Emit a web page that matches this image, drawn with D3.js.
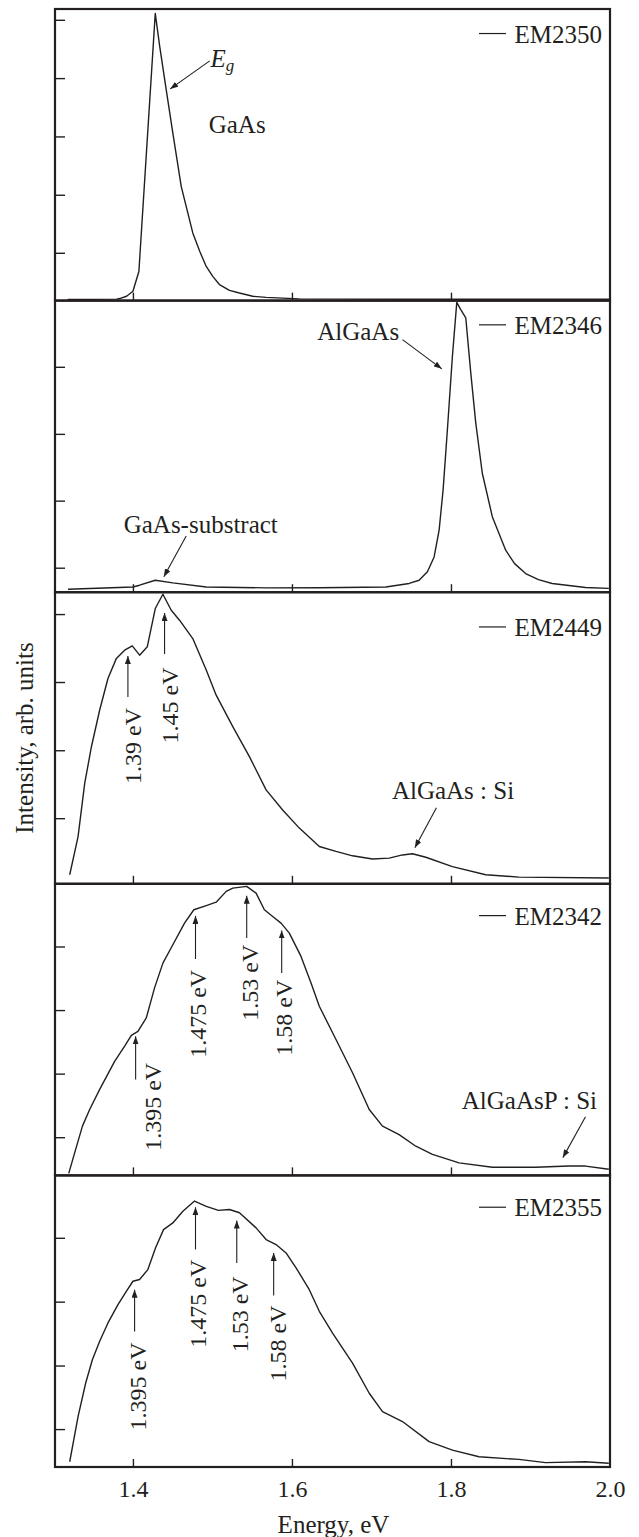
<!DOCTYPE html>
<html>
<head>
<meta charset="utf-8">
<script src="https://cdn.jsdelivr.net/npm/d3@7"></script>
<style>
  body { margin: 0; background: #fff; }
  svg text { font-family: "Liberation Serif", "Times New Roman", serif; fill: #231f20; }
</style>
</head>
<body>
<div id="chart"></div>
<script>
// --- Spectra (energy in eV, intensity normalised 0..100 per panel) ---
const em2350Energy = [1.318, 1.3795, 1.3833, 1.392, 1.4, 1.4075, 1.4281, 1.4335, 1.4419, 1.4502, 1.4608, 1.4753, 1.484, 1.4922, 1.5004, 1.5088, 1.5214, 1.5339, 1.5507, 1.5675, 1.6093, 1.7349, 2.0];
const em2350Intensity = [0.4, 0.5, 0.7, 1.5, 3.2, 10.0, 98.5, 87.5, 72.3, 57.4, 39.1, 23.2, 16.9, 11.7, 8.3, 5.5, 3.5, 2.6, 1.5, 1.1, 0.6, 0.45, 0.45];

const em2346Energy = [1.3184, 1.4, 1.4084, 1.4281, 1.4502, 1.4922, 1.5675, 1.6344, 1.7181, 1.7474, 1.7599, 1.7704, 1.7788, 1.7851, 1.7901, 1.7955, 1.8018, 1.8073, 1.8123, 1.8186, 1.8249, 1.8312, 1.8394, 1.852, 1.8688, 1.88, 1.8939, 1.91, 1.9273, 1.9692, 1.9985];
const em2346Intensity = [1.0, 1.8, 2.4, 4.1, 3.2, 1.8, 1.5, 1.55, 1.8, 3.0, 4.1, 7.0, 12.1, 21.3, 35.1, 55.7, 80.9, 99.4, 96.9, 94.1, 75.2, 58.0, 40.8, 25.9, 14.4, 9.8, 6.4, 4.3, 3.0, 1.6, 1.3];

const em2449Energy = [1.3205, 1.331, 1.3394, 1.3478, 1.3582, 1.3686, 1.3792, 1.3896, 1.3992, 1.4084, 1.4181, 1.4281, 1.4377, 1.4482, 1.4586, 1.4753, 1.4922, 1.5047, 1.5256, 1.5465, 1.5675, 1.5883, 1.6093, 1.6344, 1.6554, 1.6762, 1.7013, 1.7223, 1.739, 1.7515, 1.7684, 1.8018, 1.8437, 1.8855, 1.9985];
const em2449Intensity = [3.1, 16.2, 34.5, 47.0, 59.6, 70.4, 77.3, 80.1, 81.6, 78.4, 81.3, 94.4, 99.3, 93.8, 90.4, 84.1, 73.3, 64.7, 53.9, 43.6, 32.2, 25.3, 19.1, 12.8, 11.1, 9.6, 8.5, 8.8, 9.9, 10.3, 9.1, 5.9, 3.1, 2.3, 2.0];

const em2342Energy = [1.3193, 1.3268, 1.3365, 1.3456, 1.3582, 1.377, 1.3896, 1.398, 1.4063, 1.4168, 1.4272, 1.4377, 1.4502, 1.4649, 1.4766, 1.4922, 1.5047, 1.5173, 1.5256, 1.5431, 1.5549, 1.5653, 1.5758, 1.5863, 1.5967, 1.6114, 1.624, 1.6344, 1.6554, 1.6762, 1.6972, 1.7139, 1.7348, 1.7558, 1.7767, 1.8102, 1.852, 1.9065, 1.9483, 1.9692, 1.9985];
const em2342Intensity = [0.7, 7.8, 16.9, 22.6, 29.5, 39.1, 44.3, 48.0, 49.4, 54.0, 64.3, 72.8, 79.1, 86.5, 91.1, 92.5, 93.7, 97.4, 98.5, 99.1, 96.8, 91.1, 88.8, 86.5, 83.1, 75.1, 66.0, 58.0, 46.6, 35.2, 22.6, 16.9, 14.0, 10.0, 7.2, 4.3, 2.8, 2.8, 3.2, 3.2, 2.1];

const em2355Energy = [1.3205, 1.331, 1.3406, 1.349, 1.3582, 1.3686, 1.3812, 1.3917, 1.4, 1.4084, 1.4188, 1.4285, 1.4385, 1.4502, 1.4628, 1.4775, 1.4922, 1.5076, 1.5214, 1.534, 1.5549, 1.5675, 1.58, 1.5926, 1.6052, 1.6218, 1.6344, 1.6511, 1.6762, 1.6972, 1.7139, 1.739, 1.7725, 1.8018, 1.8353, 1.8855, 1.919, 1.9692, 1.9985];
const em2355Intensity = [1.8, 17.3, 28.8, 36.8, 43.1, 49.4, 55.7, 60.2, 63.7, 64.3, 67.7, 75.2, 81.4, 83.7, 87.7, 91.2, 89.4, 88.0, 88.3, 87.2, 82.0, 78.0, 76.3, 73.4, 68.3, 60.8, 53.4, 45.9, 35.6, 25.3, 19.0, 15.6, 8.7, 5.8, 3.5, 2.6, 1.5, 1.8, 1.3];

// --- Axis ticks ---
const energyTicks = [1.4, 1.6, 1.8];
const energyTickLabels = [1.4, 1.6, 1.8, 2.0];
const em2350YTicks = [16.4, 36.3, 56.3, 76.3, 96.3];
const em2346YTicks = [8.4, 31.4, 54.3, 77.3];
const em2449YTicks = [22.5, 45.8, 69.2, 92.5];
const em2342YTicks = [13.1, 34.9, 56.7, 78.5];
const em2355YTicks = [13.0, 34.8, 56.7, 78.6];

const panels = [
    { name: "EM2350", energy: em2350Energy, intensity: em2350Intensity, yTicks: em2350YTicks, legendY: 88.5 },
    { name: "EM2346", energy: em2346Energy, intensity: em2346Intensity, yTicks: em2346YTicks, legendY: 88.6 },
    { name: "EM2449", energy: em2449Energy, intensity: em2449Intensity, yTicks: em2449YTicks, legendY: 85.0 },
    { name: "EM2342", energy: em2342Energy, intensity: em2342Intensity, yTicks: em2342YTicks, legendY: 86.0 },
    { name: "EM2355", energy: em2355Energy, intensity: em2355Intensity, yTicks: em2355YTicks, legendY: 86.0 }
];

// labels with a slanted arrow: text position, arrow tail and tip (energy, intensity)
const slantNotes = [
    { panel: 1, text: "AlGaAs", anchor: "end", at: [1.7348, 86.6], from: [1.739, 86.6], to: [1.7884, 76.6] },
    { panel: 1, text: "GaAs-substract", anchor: "start", at: [1.3884, 20.4], from: [1.467, 19.3], to: [1.4389, 5.3] },
    { panel: 2, text: "AlGaAs : Si", anchor: "start", at: [1.7257, 29.0], from: [1.7817, 26.1], to: [1.7546, 12.4] },
    { panel: 3, text: "AlGaAsP : Si", anchor: "start", at: [1.8136, 22.6], from: [1.9692, 20.1], to: [1.9407, 6.1] }
];

// vertical peak markers: arrow at energy, tail/tip intensity, rotated label baseline energy and top end
const peakMarks = [
    { panel: 2, text: "1.39 eV", e: 1.3937, tail: 64.1, tip: 78.1, labelE: 1.4105, labelEnd: 60.3 },
    { panel: 2, text: "1.45 eV", e: 1.4398, tail: 78.8, tip: 92.9, labelE: 1.4565, labelEnd: 74.2 },
    { panel: 3, text: "1.395 eV", e: 1.4034, tail: 32.9, tip: 47.7, labelE: 1.4357, labelEnd: 38.6 },
    { panel: 3, text: "1.475 eV", e: 1.4787, tail: 74.2, tip: 89.0, labelE: 1.4922, labelEnd: 70.5 },
    { panel: 3, text: "1.53 eV", e: 1.5431, tail: 81.4, tip: 95.9, labelE: 1.5569, labelEnd: 79.1 },
    { panel: 3, text: "1.58 eV", e: 1.5871, tail: 69.4, tip: 84.0, labelE: 1.6001, labelEnd: 67.1 },
    { panel: 4, text: "1.395 eV", e: 1.4021, tail: 46.5, tip: 60.8, labelE: 1.4168, labelEnd: 42.7 },
    { panel: 4, text: "1.475 eV", e: 1.4787, tail: 74.6, tip: 89.1, labelE: 1.4922, labelEnd: 71.1 },
    { panel: 4, text: "1.53 eV", e: 1.5306, tail: 70.0, tip: 84.5, labelE: 1.5444, labelEnd: 65.4 },
    { panel: 4, text: "1.58 eV", e: 1.577, tail: 58.8, tip: 73.4, labelE: 1.5926, labelEnd: 55.4 }
];

// --- Layout ---
const width = 639, height = 1537;
const left = 55, right = 610, top0 = 9, bottom = 1467;
const panelH = (bottom - top0) / panels.length;
const ink = "#231f20";

const x = d3.scaleLinear().domain([1.302, 2.0]).range([left, right]);

const svg = d3.select("#chart").append("svg")
    .attr("width", width)
    .attr("height", height);

svg.append("defs").append("marker")
    .attr("id", "arrow")
    .attr("viewBox", "0 0 8 6")
    .attr("refX", 8).attr("refY", 3)
    .attr("markerWidth", 8).attr("markerHeight", 6)
    .attr("markerUnits", "userSpaceOnUse")
    .attr("orient", "auto")
    .append("path")
    .attr("d", "M0,0L8,3L0,6Z")
    .attr("fill", ink);

const yScales = [];

panels.forEach((p, i) => {
    const top = top0 + i * panelH;
    const y = d3.scaleLinear().domain([0, 100]).range([top + panelH, top]);
    yScales.push(y);
    const g = svg.append("g");

    // inward ticks
    g.append("g")
        .attr("transform", `translate(0,${top + panelH})`)
        .call(d3.axisBottom(x).tickValues(energyTicks).tickSize(-8).tickFormat(""))
        .call(a => a.select(".domain").remove())
        .call(a => a.selectAll("line").attr("stroke", ink).attr("stroke-width", 1.4));

    g.append("g")
        .attr("transform", `translate(${left},0)`)
        .call(d3.axisLeft(y).tickValues(p.yTicks).tickSize(-10).tickFormat(""))
        .call(a => a.select(".domain").remove())
        .call(a => a.selectAll("line").attr("stroke", ink).attr("stroke-width", 1.4));

    // spectrum
    g.append("path")
        .datum(d3.zip(p.energy, p.intensity))
        .attr("fill", "none")
        .attr("stroke", ink)
        .attr("stroke-width", 1.4)
        .attr("stroke-linejoin", "round")
        .attr("d", d3.line().x(d => x(d[0])).y(d => y(d[1])));

    // frame
    g.append("rect")
        .attr("x", left).attr("y", top)
        .attr("width", right - left).attr("height", panelH)
        .attr("fill", "none")
        .attr("stroke", ink)
        .attr("stroke-width", 2.2);

    // legend
    const ly = y(p.legendY);
    g.append("line")
        .attr("x1", right - 131).attr("x2", right - 104)
        .attr("y1", ly - 9).attr("y2", ly - 9)
        .attr("stroke", ink).attr("stroke-width", 1.2);
    g.append("text")
        .attr("x", right - 8).attr("y", ly)
        .attr("text-anchor", "end")
        .attr("font-size", 25)
        .text(p.name);
});

// panel 1 labels
const y0 = yScales[0];
const eg = svg.append("text")
    .attr("x", x(1.4976)).attr("y", y0(80.1))
    .attr("font-size", 25)
    .attr("font-style", "italic");
eg.append("tspan").text("E");
eg.append("tspan").attr("font-size", 17).attr("dy", 4).text("g");
svg.append("line")
    .attr("x1", x(1.4966)).attr("y1", y0(82.2))
    .attr("x2", x(1.4469)).attr("y2", y0(72.6))
    .attr("stroke", ink).attr("stroke-width", 1.1)
    .attr("marker-end", "url(#arrow)");
svg.append("text")
    .attr("x", x(1.4953)).attr("y", y0(57.5))
    .attr("font-size", 25)
    .text("GaAs");

slantNotes.forEach(n => {
    const y = yScales[n.panel];
    svg.append("text")
        .attr("x", x(n.at[0])).attr("y", y(n.at[1]))
        .attr("text-anchor", n.anchor)
        .attr("font-size", 25)
        .text(n.text);
    svg.append("line")
        .attr("x1", x(n.from[0])).attr("y1", y(n.from[1]))
        .attr("x2", x(n.to[0])).attr("y2", y(n.to[1]))
        .attr("stroke", ink).attr("stroke-width", 1.1)
        .attr("marker-end", "url(#arrow)");
});

peakMarks.forEach(m => {
    const y = yScales[m.panel];
    svg.append("line")
        .attr("x1", x(m.e)).attr("x2", x(m.e))
        .attr("y1", y(m.tail)).attr("y2", y(m.tip))
        .attr("stroke", ink).attr("stroke-width", 1.1)
        .attr("marker-end", "url(#arrow)");
    const tx = x(m.labelE), ty = y(m.labelEnd);
    svg.append("text")
        .attr("transform", `translate(${tx},${ty}) rotate(-90)`)
        .attr("text-anchor", "end")
        .attr("font-size", 24)
        .text(m.text);
});

// bottom tick labels
svg.append("g")
    .attr("transform", `translate(0,${bottom})`)
    .call(d3.axisBottom(x).tickValues(energyTickLabels).tickSize(0).tickFormat(d3.format(".1f")))
    .call(a => a.select(".domain").remove())
    .call(a => a.selectAll("text")
        .attr("y", 30).attr("dy", null)
        .attr("font-size", 24)
        .attr("font-family", "Liberation Serif, Times New Roman, serif")
        .attr("fill", ink));

// axis titles
svg.append("text")
    .attr("x", (left + right) / 2 + 1).attr("y", 1533)
    .attr("text-anchor", "middle")
    .attr("font-size", 25)
    .text("Energy, eV");

svg.append("text")
    .attr("transform", `translate(33,${(top0 + bottom) / 2}) rotate(-90)`)
    .attr("text-anchor", "middle")
    .attr("font-size", 25)
    .text("Intensity, arb. units");
</script>
</body>
</html>
